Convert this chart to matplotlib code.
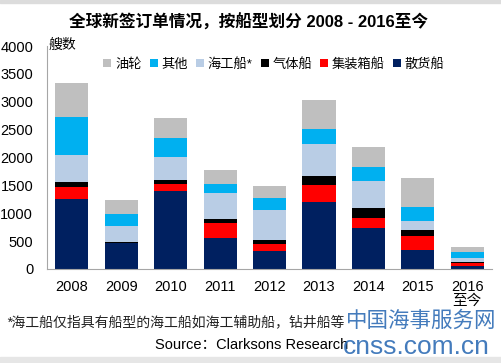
import matplotlib.pyplot as plt
import matplotlib.patches as mpatches
import numpy as np

plt.rcParams['font.family'] = ['Liberation Sans', 'Noto Sans CJK SC']

years = ['2008', '2009', '2010', '2011', '2012', '2013', '2014', '2015', '2016\n至今']
# stacked from bottom up
bulk = [1256, 460, 1405, 564, 330, 1195, 733, 342, 60]         # 散货船
container = [221, 15, 127, 259, 114, 319, 180, 253, 50]        # 集装箱船
gas = [78, 17, 72, 72, 79, 162, 180, 108, 22]                  # 气体船
offshore = [486, 277, 414, 468, 540, 570, 481, 150, 66]        # 海工船*
other = [692, 222, 336, 169, 210, 259, 252, 258, 108]          # 其他
tanker = [613, 240, 349, 252, 222, 528, 366, 529, 85]          # 油轮

series = [('散货船', bulk, '#002060'),
          ('集装箱船', container, '#ff0000'),
          ('气体船', gas, '#000000'),
          ('海工船*', offshore, '#b9cde5'),
          ('其他', other, '#00b0f0'),
          ('油轮', tanker, '#bfbfbf')]

fig = plt.figure(figsize=(5.01, 3.63), dpi=100)
ax = fig.add_axes([0.094, 0.259, 0.888, 0.614])

x = np.arange(len(years))
bottom = np.zeros(len(years))
handles = {}
for name, vals, col in series:
    b = ax.bar(x, vals, 0.67, bottom=bottom, color=col, label=name)
    handles[name] = b
    bottom += np.array(vals)

ax.set_xlim(-0.5, 8.5)
ax.set_ylim(0, 4000)
ax.set_yticks(range(0, 4001, 500))
ax.set_xticks(x)
ax.set_xticklabels(years, fontsize=10.5, linespacing=0.95)
ax.tick_params(axis='y', length=0, pad=10, labelsize=10.5)
ax.tick_params(axis='x', length=0, pad=8)
for s in ['top', 'right']:
    ax.spines[s].set_visible(False)
ax.spines['left'].set_color('#a6a6a6')
ax.spines['bottom'].set_color('#a6a6a6')

ax.text(0.003, 1.005, '艘数', transform=ax.transAxes, fontsize=10, va='center', ha='left')

order = ['油轮', '其他', '海工船*', '气体船', '集装箱船', '散货船']
ax.legend([handles[n] for n in order], order, loc='upper center', bbox_to_anchor=(0.51, 1.0),
          ncol=6, frameon=False, fontsize=9.5, handlelength=0.6, handleheight=0.6,
          handletextpad=0.3, columnspacing=0.6, borderaxespad=0.5)

fig.text(0.497, 0.94, '全球新签订单情况，按船型划分 2008 - 2016至今', ha='center', va='center',
         fontsize=12, fontweight='bold')

fig.text(0.012, 0.112, '*海工船仅指具有船型的海工船如海工辅助船，钻井船等', ha='left', va='center',
         fontsize=10, style='italic', color='#222222')
fig.text(0.31, 0.05, 'Source：Clarksons Research', ha='left', va='center', fontsize=10.5)

# watermark
fig.text(0.99, 0.115, '中国海事服务网', ha='right', va='center', fontsize=15.5, color='#2f6db5', alpha=0.9)
fig.text(0.978, 0.045, 'cnss.com.cn', ha='right', va='center', fontsize=19, color='#2f6db5', alpha=0.9)

fig.patches.append(mpatches.Rectangle((0, 0), 1, 0.017, transform=fig.transFigure,
                                      color='#e6e6e6', zorder=-1))
fig.patches.append(mpatches.Rectangle((0, 0.993), 1, 0.007, transform=fig.transFigure,
                                      color='#dcdcdc', zorder=-1))

fig.savefig('out.png', dpi=100)
